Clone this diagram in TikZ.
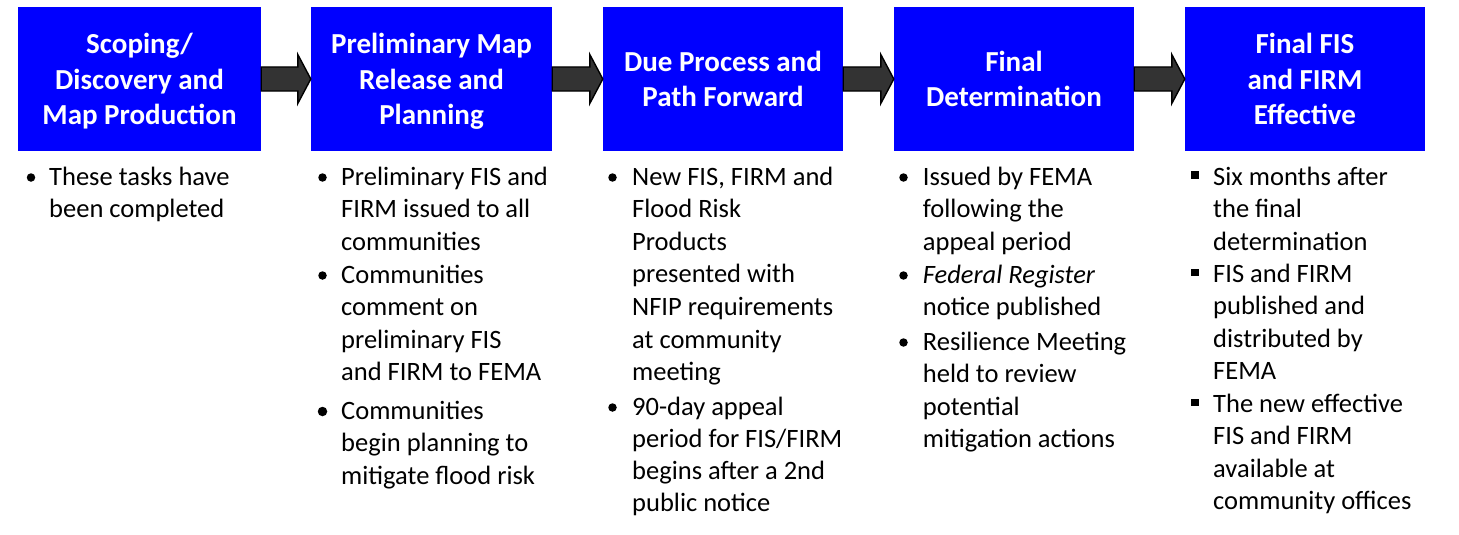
\documentclass[tikz,border=0pt]{standalone}
\usepackage{fontspec}
\setmainfont{Carlito}
\usetikzlibrary{calc}
\definecolor{stageblue}{HTML}{0000FF}
\definecolor{arrowgray}{HTML}{333333}
\tikzset{
  stagebox/.style={rectangle, fill=stageblue, draw=none, minimum height=144pt, inner sep=0pt,
    text=white, align=center, text depth=0pt, font=\fontsize{29}{35.5}\selectfont\bfseries},
  itemtext/.style={anchor=base west, inner sep=0pt, align=left, text=black,
    font=\fontsize{26.5}{32.6}\selectfont},
  dotbullet/.style={circle, fill=black, inner sep=0pt, minimum size=8.5pt},
  sqbullet/.style={rectangle, fill=black, inner sep=0pt, minimum size=7.5pt},
  flowarrow/.style={fill=arrowgray, draw=black, line width=1.4pt, line join=miter}
}
\begin{document}
\begin{tikzpicture}[x=1pt,y=-1pt]
\useasboundingbox (0,0) rectangle (1459,535);
% stage boxes
\node[stagebox, minimum width=243pt] (b1) at (139.5,79) {Scoping/\\Discovery and\\Map Production};
\node[stagebox, minimum width=241pt] (b2) at (431.5,79) {Preliminary Map\\Release and\\Planning};
\node[stagebox, minimum width=240pt] (b3) at (723,79) {Due Process and\\Path Forward};
\node[stagebox, minimum width=240pt] (b4) at (1014,79) {Final\\Determination};
\node[stagebox, minimum width=240pt] (b5) at (1305,79) {Final FIS\\and FIRM\\Effective};
% block arrows
\foreach \a/\b in {b1/b2,b2/b3,b3/b4,b4/b5}{
  \draw[flowarrow] ($(\a.east)+(0,-12)$) -- ($(\b.west)+(-13,-12)$) -- ($(\b.west)+(-13,-24.5)$)
    -- (\b.west) -- ($(\b.west)+(-13,24.5)$) -- ($(\b.west)+(-13,12)$) -- ($(\a.east)+(0,12)$) -- cycle;
}
% column 1 (node positions are the baseline of each item's last line)
\node[dotbullet] (c1d1) at (31,177.5) {};
\node[itemtext] (c1t1) at (49,217.6) {These tasks have\\been completed};
% column 2
\node[dotbullet] (c2d1) at (322.5,177.5) {};
\node[itemtext] (c2t1) at (341,250.2) {Preliminary FIS and\\FIRM issued to all\\communities};
\node[dotbullet] (c2d2) at (322.5,275.5) {};
\node[itemtext] (c2t2) at (341,380.8) {Communities\\comment on\\preliminary FIS\\and FIRM to FEMA};
\node[dotbullet, minimum size=9.5pt] (c2d3) at (322.5,411.5) {};
\node[itemtext] (c2t3) at (341,484.2) {Communities\\begin planning to\\mitigate flood risk};
% column 3
\node[dotbullet] (c3d1) at (612.5,177.5) {};
\node[itemtext] (c3t1) at (632,380.6) {New FIS, FIRM and\\Flood Risk\\Products\\presented with\\NFIP requirements\\at community\\meeting};
\node[dotbullet] (c3d2) at (612.5,407.5) {};
\node[itemtext, font=\fontsize{26.5}{32.2}\selectfont] (c3t2) at (632,511.6) {90-day appeal\\period for FIS/FIRM\\begins after a 2nd\\public notice};
% column 4
\node[dotbullet] (c4d1) at (903.5,177.5) {};
\node[itemtext] (c4t1) at (922.7,250.2) {Issued by FEMA\\following the\\appeal period};
\node[dotbullet] (c4d2) at (903.5,275.5) {};
\node[itemtext] (c4t2) at (922.7,315.6) {\textit{Federal Register}\\notice published};
\node[dotbullet] (c4d3) at (903.5,342.5) {};
\node[itemtext] (c4t3) at (922.7,447.8) {Resilience Meeting\\held to review\\potential\\mitigation actions};
% column 5
\node[sqbullet] (c5s1) at (1195,175) {};
\node[itemtext] (c5t1) at (1213,250.2) {Six months after\\the final\\determination};
\node[sqbullet] (c5s2) at (1195,272.5) {};
\node[itemtext] (c5t2) at (1213,379.8) {FIS and FIRM\\published and\\distributed by\\FEMA};
\node[sqbullet] (c5s3) at (1195,402.5) {};
\node[itemtext] (c5t3) at (1213,509.8) {The new effective\\FIS and FIRM\\available at\\community offices};
\end{tikzpicture}
\end{document}
